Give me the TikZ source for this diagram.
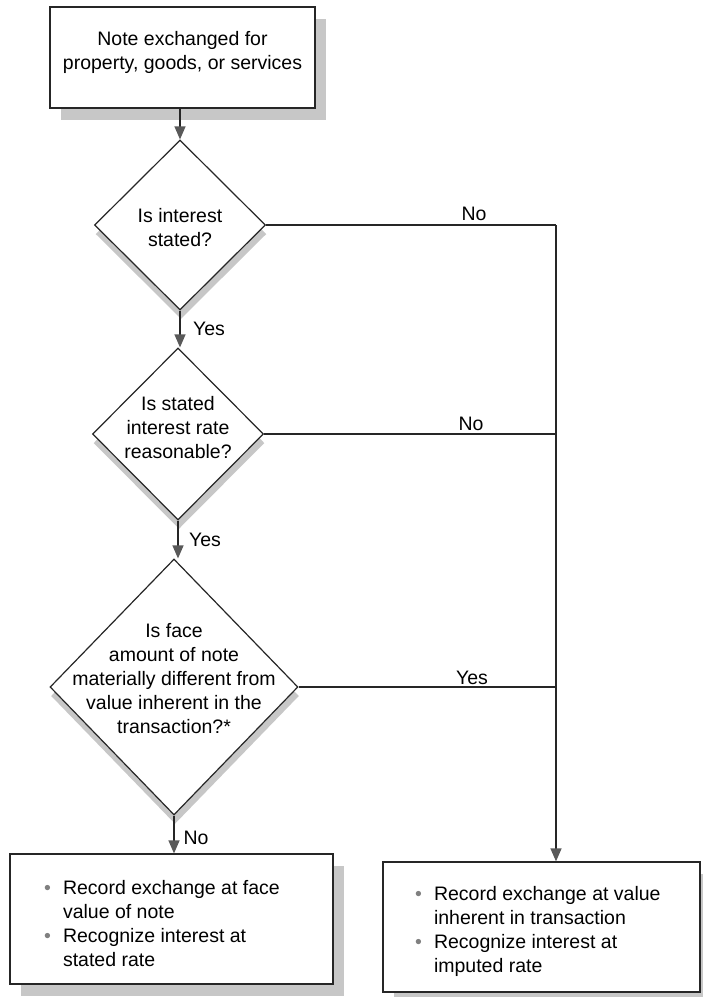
\documentclass[tikz,border=0pt]{standalone}
\usepackage{fontspec}
\setmainfont{Liberation Sans}
\usetikzlibrary{shapes.geometric,arrows.meta,shadows}
\definecolor{shade}{gray}{0.78}
\definecolor{ink}{gray}{0.15}
\definecolor{tipc}{gray}{0.35}
\definecolor{dotc}{gray}{0.5}
\newcommand{\blt}{{\color{dotc}\textbullet}}
\begin{document}
\begin{tikzpicture}[x=1pt,y=-1pt, font=\fontsize{19.5}{24}\selectfont,
  box/.style={draw=ink, line width=1.2pt, fill=white, rectangle, inner sep=0pt,
    general shadow={fill=shade, shadow xshift=11pt, shadow yshift=-12pt}},
  dia/.style={draw=ink, line width=1.2pt, fill=white, diamond, inner sep=0pt,
    general shadow={fill=shade, shadow xshift=1pt, shadow yshift=-9pt}},
  txt/.style={align=center, inner sep=0pt},
  lab/.style={inner sep=0pt},
  conn/.style={draw=ink, line width=1.2pt},
  arr/.style={conn, -{Triangle[width=11pt,length=13pt,color=tipc]}}
]
\path[use as bounding box] (0,0) rectangle (703,997);

\node[box, minimum width=265pt, minimum height=101pt] (top) at (182.5,57.5) {};
\node[txt] (toptxt) at (182.5,52) {Note exchanged for\\property, goods, or services};

\node[dia, minimum width=171pt, minimum height=170pt] (d1) at (180,225) {};
\node[txt] (d1t) at (180,228) {Is interest\\stated?};

\node[dia, minimum width=171pt, minimum height=172pt] (d2) at (178,434) {};
\node[txt] (d2t) at (178,428) {Is stated\\interest rate\\reasonable?};

\node[dia, minimum width=248pt, minimum height=256pt] (d3) at (174,687) {};
\node[txt] (d3t) at (174,679) {Is face\\amount of note\\materially different from\\value inherent in the\\transaction?*};

\node[box, minimum width=323pt, minimum height=130pt] (lb) at (171.5,919) {};
\node[anchor=west, inner sep=0pt] (lbt) at (44,926) {\begin{tabular}{@{}l@{\hspace{12pt}}l@{}}
\blt & Record exchange at face\\
 & value of note\\
\blt & Recognize interest at\\
 & stated rate
\end{tabular}};

\node[box, minimum width=317pt, minimum height=130pt] (rb) at (541.5,927) {};
\node[anchor=west, inner sep=0pt] (rbt) at (415,932) {\begin{tabular}{@{}l@{\hspace{12pt}}l@{}}
\blt & Record exchange at value\\
 & inherent in transaction\\
\blt & Recognize interest at\\
 & imputed rate
\end{tabular}};

\coordinate (j) at (556,225);

\draw[arr] (top.south -| d1.north) -- (d1.north);
\draw[arr] (d1.south) -- (d1.south |- d2.north);
\draw[arr] (d2.south) -- (d2.south |- d3.north);
\draw[arr] (d3.south) -- (d3.south |- lb.north);
\draw[conn] (d1.east) -- (j);
\draw[arr] (j) -- (j |- rb.north);
\draw[conn] (d2.east) -- (d2.east -| j);
\draw[conn] (d3.east) -- (d3.east -| j);

\node[lab] (no1) at (474,214) {No};
\node[lab] (no2) at (471,424) {No};
\node[lab] (yes3) at (472,678) {Yes};
\node[lab] (yes1) at (209,329) {Yes};
\node[lab] (yes2) at (205,540) {Yes};
\node[lab] (no3) at (196,838) {No};
\end{tikzpicture}
\end{document}
